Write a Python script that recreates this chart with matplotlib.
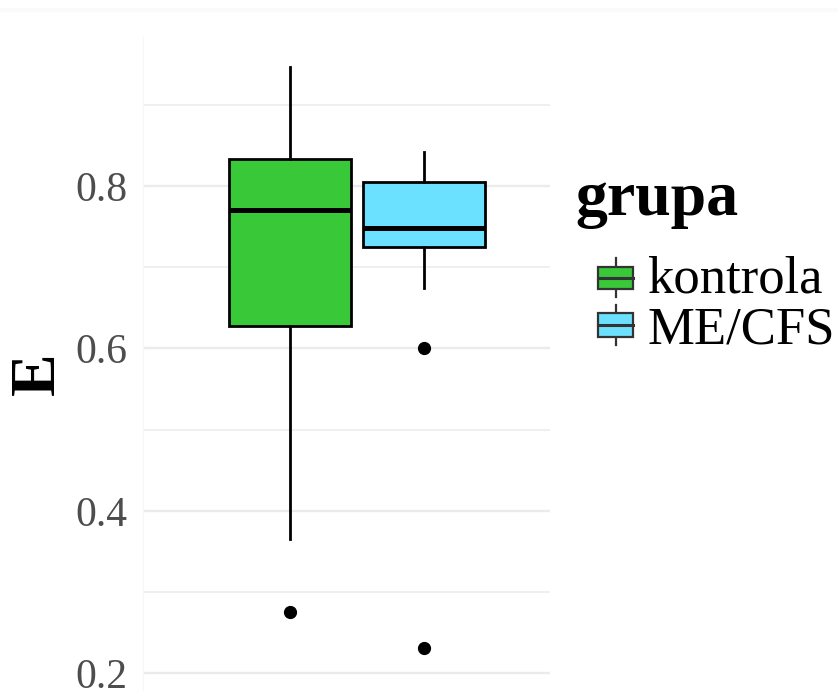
import matplotlib
matplotlib.use("Agg")
import matplotlib.pyplot as plt
from matplotlib.patches import Rectangle
from matplotlib.lines import Line2D

# box statistics per group (E)
groups = ["kontrola", "ME/CFS"]
colors = ["#38C838", "#6CE0FF"]
whisker_low = [0.365, 0.674]
q1 = [0.628, 0.725]
median = [0.770, 0.748]
q3 = [0.833, 0.805]
whisker_high = [0.947, 0.842]
outliers = [[0.275], [0.600, 0.231]]

plt.rcParams["font.family"] = ["Liberation Serif", "DejaVu Serif"]

W, H = 838, 691
fig = plt.figure(figsize=(W / 100, H / 100), dpi=100)


def fx(px):
    return px / W


def fy(py):
    return 1 - py / H


ax = fig.add_axes([fx(143), 0, fx(550) - fx(143), fy(37)])

stats = []
for i, g in enumerate(groups):
    stats.append(dict(label=g, whislo=whisker_low[i], q1=q1[i], med=median[i],
                      q3=q3[i], whishi=whisker_high[i], fliers=outliers[i]))

bp = ax.bxp(stats, positions=[1, 2], widths=0.91, patch_artist=True,
            showcaps=False,
            boxprops=dict(edgecolor="black", linewidth=2.0),
            medianprops=dict(color="black", linewidth=3.6, solid_capstyle="butt"),
            whiskerprops=dict(color="black", linewidth=2.0),
            flierprops=dict(marker="o", markerfacecolor="black", markeredgecolor="black",
                            markersize=8.5))
for patch, c in zip(bp["boxes"], colors):
    patch.set_facecolor(c)

ax.set_xlim(-0.097, 2.94)
ax.set_ylim(0.178, 0.9835)
ax.set_xticks([])
ax.set_yticks([0.2, 0.4, 0.6, 0.8])
ax.set_yticklabels(["0.2", "0.4", "0.6", "0.8"])
ax.set_yticks([0.3, 0.5, 0.7, 0.9], minor=True)
ax.tick_params(axis="y", which="both", length=0, pad=11, labelsize=30, labelcolor="#4d4d4d")
ax.grid(axis="y", which="major", color="#ebebeb", linewidth=1.7)
ax.grid(axis="y", which="minor", color="#ebebeb", linewidth=1.1)
ax.set_axisbelow(True)
for side in ["top", "right", "bottom"]:
    ax.spines[side].set_visible(False)
ax.spines["left"].set_color("#f6f6f6")
ax.spines["left"].set_linewidth(0.8)

ax.set_ylabel("E", fontsize=46, fontweight="bold", va="center")
ax.yaxis.set_label_coords(fx(39), fy(374), transform=fig.transFigure)

# faint band along the top edge
fig.add_artist(Line2D([0, 1], [fy(10), fy(10)], color="#fafafa", linewidth=3))

# legend drawn by hand: whisker behind the box, median on top
fig.text(fx(575), fy(215), "grupa", fontsize=46, fontweight="bold", va="baseline", ha="left")
key_rows = [(258, 267, 278, 289, 297, 292), (305, 313, 325, 337, 345, 343)]
for (wt, bt, md, bb, wb, base), g, c in zip(key_rows, groups, colors):
    fig.add_artist(Line2D([fx(615.5), fx(615.5)], [fy(wt), fy(wb)], color="#333333",
                          linewidth=1.6, zorder=1))
    fig.add_artist(Rectangle((fx(598), fy(bb)), fx(633) - fx(598), fy(bt) - fy(bb),
                             facecolor=c, edgecolor="#333333", linewidth=1.6,
                             transform=fig.transFigure, zorder=2))
    fig.add_artist(Line2D([fx(598), fx(633)], [fy(md), fy(md)], color="#333333",
                          linewidth=2.2, zorder=3))
    fig.text(fx(647), fy(base), g, fontsize=38, va="baseline", ha="left")

fig.savefig("out.png", dpi=100)
